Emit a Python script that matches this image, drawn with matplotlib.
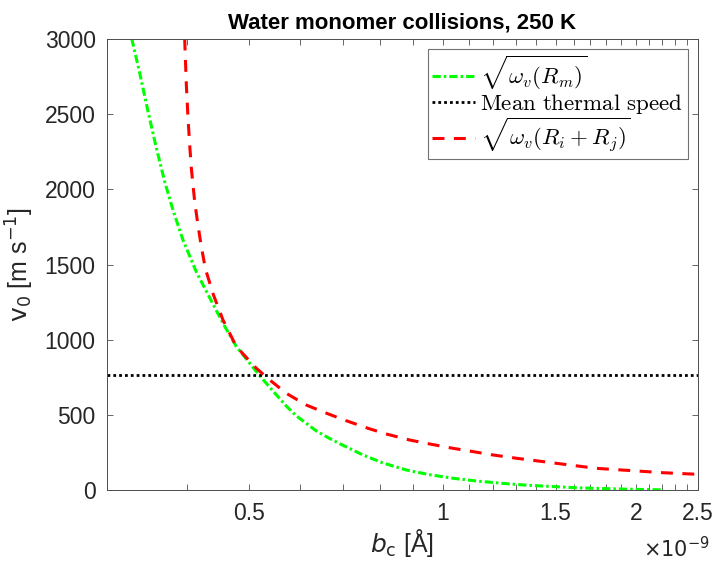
import numpy as np
import matplotlib
matplotlib.use('Agg')
import matplotlib.pyplot as plt

plt.rcParams['font.family'] = ['Liberation Sans', 'DejaVu Sans']
plt.rcParams['mathtext.fontset'] = 'cm'

# ── Datos ─────────────────────────────────────────────
# sqrt(omega_v(R_m))  (verde)
bc_m = np.array([0.328, 0.3376, 0.3478, 0.3584, 0.3692, 0.3803, 0.394, 0.4136,
                 0.4338, 0.455, 0.4774, 0.5007, 0.519, 0.551, 0.571, 0.592,
                 0.636, 0.667, 0.6995, 0.7515, 0.807, 0.878, 0.954, 1.038,
                 1.128, 1.241, 1.35, 1.634, 1.955, 2.203]) * 1e-9
v_m = np.array([3000, 2770, 2515, 2272, 2050, 1862, 1665, 1450,
                1280, 1110, 955, 845, 762, 635, 560, 495,
                395, 345, 300, 236, 183, 136, 105, 81,
                63, 47, 35, 17, 8, 4])

# sqrt(omega_v(R_i + R_j))  (rojo)
bc_ij = np.array([0.3966, 0.399, 0.4014, 0.4038, 0.4062, 0.4111, 0.416, 0.421,
                  0.426, 0.4287, 0.4396, 0.455, 0.4774, 0.5129, 0.538, 0.571,
                  0.6135, 0.662, 0.708, 0.765, 0.817, 0.8885, 0.954, 1.0376,
                  1.115, 1.197, 1.302, 1.734, 2.203, 2.5]) * 1e-9
v_ij = np.array([3000, 2692, 2471, 2294, 2139, 1918, 1760, 1620,
                 1500, 1450, 1300, 1132, 955, 811, 734, 645,
                 567, 510, 463, 413, 375, 335, 309, 280,
                 258, 236, 214, 147, 118, 107])

v_thermal = 765  # velocidad térmica media [m/s]

xticks_all = np.round(np.arange(0.3, 2.51, 0.1), 1) * 1e-9
xtick_lbl = {0.5: '0.5', 1.0: '1', 1.5: '1.5', 2.0: '2', 2.5: '2.5'}
yticks = np.arange(0, 3001, 500)

# ── Figura ────────────────────────────────────────────
fig = plt.figure(figsize=(7.17, 5.67), dpi=100)
ax = fig.add_axes([0.149, 0.135, 0.8245, 0.797])

ax.plot(bc_m, v_m, color='#00ff00', ls=(0, (2.7, 1.0, 0.8, 1.0)), lw=2.2,
        label=r'$\sqrt{\omega_v(R_m)}$')
ax.axhline(v_thermal, color='black', ls=(0, (1.0, 1.1)), lw=2.0,
           label=r'$\mathrm{Mean\ thermal\ speed}$')
ax.plot(bc_ij, v_ij, color='#ff0000', ls=(0, (3.9, 3.1)), lw=2.2,
        label=r'$\sqrt{\omega_v(R_i + R_j)}$')

ax.set_xscale('log')
ax.set_xlim(0.3e-9, 2.5e-9)
ax.set_ylim(0, 3000)
ax.set_xticks(xticks_all)
ax.set_xticklabels([xtick_lbl.get(round(v * 1e9, 1), '') for v in xticks_all])
ax.xaxis.set_minor_locator(matplotlib.ticker.NullLocator())
ax.set_yticks(yticks)

ax.tick_params(direction='in', top=True, right=True, length=4, width=0.6,
               colors='#4d4d4d', labelcolor='#262626', labelsize=16.5, pad=8)
for sp in ax.spines.values():
    sp.set_edgecolor('#4d4d4d'); sp.set_linewidth(0.7)

ax.set_title('Water monomer collisions, 250 K', fontsize=16, fontweight='bold', pad=7)
ax.set_xlabel(r'$b_{\mathrm{c}}$ [Å]', fontsize=18, color='#262626', labelpad=2,
              math_fontfamily='dejavusans')
ax.set_ylabel(r'$\mathsf{v}_{0}$ [m s$^{-1}$]', fontsize=18, color='#262626', labelpad=6,
              math_fontfamily='dejavusans')
fig.text(0.99, 0.018, r'$\times10^{-9}$', fontsize=15, color='#262626', ha='right',
         math_fontfamily='dejavusans')

leg = ax.legend(loc='upper right', fontsize=16.5, frameon=True, fancybox=False,
                edgecolor='#4d4d4d', handlelength=1.85, borderaxespad=0.45,
                labelspacing=0.0, handletextpad=0.25, borderpad=0.2)
leg.get_frame().set_linewidth(0.8)

fig.savefig('out.png', dpi=100)
